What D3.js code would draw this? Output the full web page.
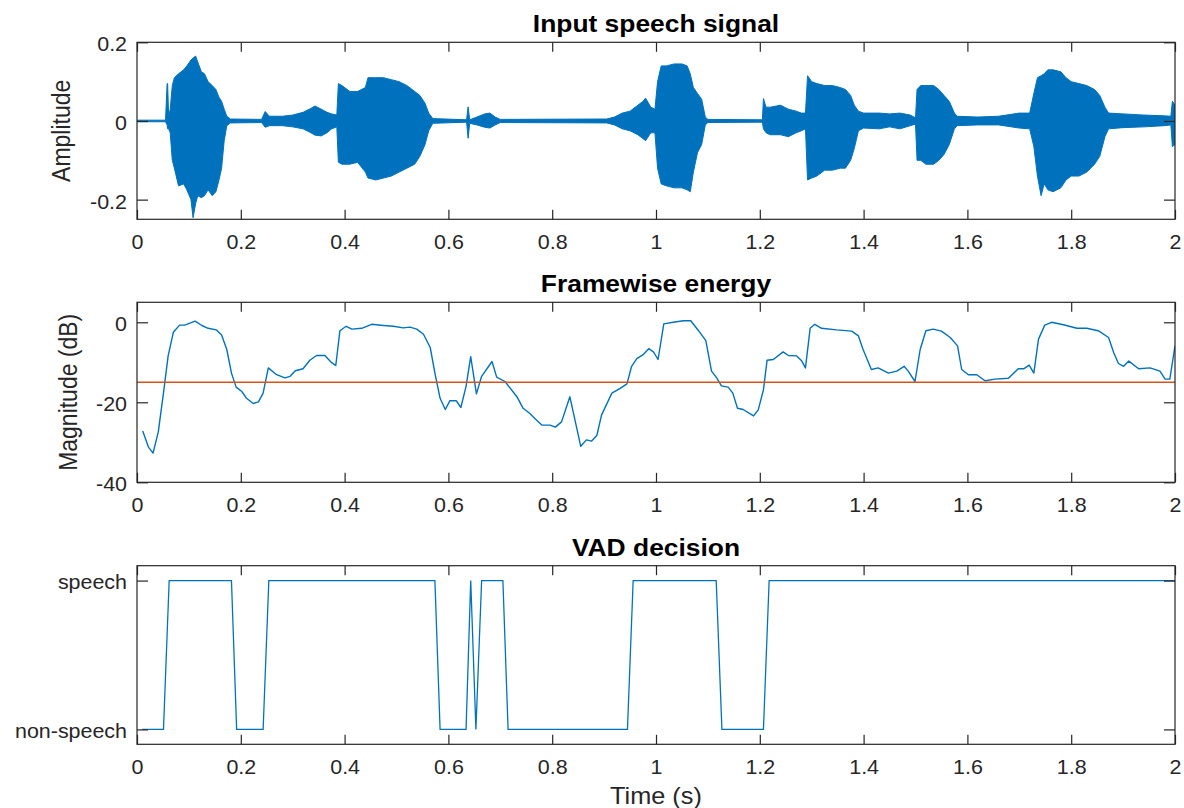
<!DOCTYPE html>
<html>
<head>
<meta charset="utf-8">
<script src="https://cdn.jsdelivr.net/npm/d3@7"></script>
<style>
  html, body { margin: 0; padding: 0; background: #fff; }
  svg { display: block; font-family: "Liberation Sans", Arial, Helvetica, sans-serif; }
</style>
</head>
<body>
<svg id="chart" width="1184" height="808"></svg>
<script>
// ---------------- DATA ----------------
const xTickValues = [0, 0.2, 0.4, 0.6, 0.8, 1, 1.2, 1.4, 1.6, 1.8, 2];
const xTickLabels = ["0", "0.2", "0.4", "0.6", "0.8", "1", "1.2", "1.4", "1.6", "1.8", "2"];

const ampTickValues = [-0.2, 0, 0.2];
const ampTickLabels = ["-0.2", "0", "0.2"];
const dbTickValues = [-40, -20, 0];
const dbTickLabels = ["-40", "-20", "0"];
const vadTickValues = [0, 1];
const vadTickLabels = ["non-speech", "speech"];

const titles = ["Input speech signal", "Framewise energy", "VAD decision"];
const yLabels = ["Amplitude", "Magnitude (dB)"];
const xLabel = "Time (s)";

// Input speech signal: envelope (upper / lower peaks)
const waveTime = [0, 0.055, 0.058, 0.059, 0.061, 0.064, 0.068, 0.072, 0.080, 0.090, 0.096, 0.104, 0.108, 0.113, 0.117, 0.124, 0.130, 0.137, 0.145, 0.152, 0.158, 0.163, 0.168, 0.173, 0.180,
  0.240, 0.247, 0.255, 0.280, 0.300, 0.320, 0.335, 0.343, 0.355, 0.366, 0.375, 0.385, 0.388, 0.395, 0.410, 0.425, 0.440, 0.445, 0.460, 0.475, 0.490, 0.505, 0.520, 0.535, 0.545, 0.555, 0.562, 0.570,
  0.635, 0.638, 0.641, 0.655, 0.670, 0.680, 0.690, 0.700,
  0.905, 0.920, 0.935, 0.950, 0.965, 0.975, 0.980, 0.990, 0.998, 1.003, 1.010, 1.020, 1.035, 1.050, 1.060, 1.066, 1.072, 1.080, 1.088, 1.095, 1.100,
  1.205, 1.207, 1.212, 1.220, 1.240, 1.255, 1.270, 1.280, 1.288, 1.292, 1.300, 1.310, 1.325, 1.340, 1.355, 1.365, 1.375, 1.382, 1.390, 1.400, 1.430, 1.450, 1.470, 1.490, 1.500,
  1.503, 1.510, 1.520, 1.535, 1.545, 1.555, 1.565, 1.575, 1.580, 1.620, 1.660, 1.700, 1.720, 1.728, 1.735, 1.742, 1.748, 1.755, 1.765, 1.780, 1.790, 1.800, 1.815, 1.830, 1.845, 1.855, 1.865, 1.872,
  1.900, 1.940, 1.980, 1.992, 1.995, 2.000];
const waveUpper = [0.002, 0.002, 0.095, 0.095, 0.010, 0.030, 0.090, 0.110, 0.120, 0.130, 0.140, 0.155, 0.160, 0.165, 0.150, 0.125, 0.120, 0.100, 0.090, 0.080, 0.060, 0.050, 0.030, 0.012, 0.005,
  0.004, 0.024, 0.012, 0.012, 0.015, 0.022, 0.032, 0.038, 0.030, 0.022, 0.018, 0.015, 0.095, 0.090, 0.075, 0.075, 0.085, 0.110, 0.110, 0.110, 0.105, 0.100, 0.090, 0.075, 0.065, 0.045, 0.020, 0.006,
  0.003, 0.036, 0.003, 0.010, 0.018, 0.020, 0.010, 0.004,
  0.005, 0.010, 0.020, 0.025, 0.040, 0.050, 0.058, 0.035, 0.030, 0.100, 0.140, 0.140, 0.145, 0.145, 0.140, 0.120, 0.085, 0.070, 0.055, 0.010, 0.004,
  0.003, 0.057, 0.035, 0.035, 0.040, 0.030, 0.025, 0.020, 0.020, 0.115, 0.100, 0.095, 0.090, 0.090, 0.085, 0.080, 0.065, 0.040, 0.025, 0.020, 0.020, 0.018, 0.020, 0.015, 0.008,
  0.080, 0.090, 0.090, 0.090, 0.080, 0.065, 0.050, 0.020, 0.012, 0.010, 0.012, 0.020, 0.020, 0.070, 0.110, 0.115, 0.120, 0.130, 0.130, 0.125, 0.110, 0.100, 0.095, 0.090, 0.080, 0.065, 0.035, 0.020,
  0.018, 0.015, 0.013, 0.012, 0.050, 0.040];
const waveLower = [-0.002, -0.002, -0.010, -0.020, -0.020, -0.030, -0.100, -0.120, -0.165, -0.160, -0.175, -0.200, -0.246, -0.210, -0.190, -0.195, -0.190, -0.175, -0.190, -0.180, -0.150, -0.120, -0.050, -0.012, -0.005,
  -0.004, -0.016, -0.012, -0.012, -0.015, -0.020, -0.030, -0.036, -0.038, -0.030, -0.020, -0.015, -0.105, -0.110, -0.110, -0.105, -0.130, -0.145, -0.150, -0.145, -0.140, -0.130, -0.120, -0.110, -0.090, -0.060, -0.025, -0.006,
  -0.003, -0.044, -0.006, -0.010, -0.016, -0.018, -0.010, -0.004,
  -0.005, -0.010, -0.020, -0.025, -0.035, -0.045, -0.050, -0.030, -0.030, -0.120, -0.160, -0.165, -0.170, -0.170, -0.175, -0.180, -0.130, -0.080, -0.060, -0.010, -0.004,
  -0.003, -0.020, -0.030, -0.035, -0.035, -0.040, -0.030, -0.025, -0.020, -0.150, -0.145, -0.140, -0.125, -0.125, -0.120, -0.120, -0.100, -0.070, -0.025, -0.018, -0.020, -0.015, -0.020, -0.012, -0.008,
  -0.100, -0.100, -0.110, -0.110, -0.100, -0.085, -0.060, -0.020, -0.012, -0.010, -0.010, -0.018, -0.020, -0.065, -0.140, -0.190, -0.160, -0.175, -0.180, -0.170, -0.150, -0.140, -0.140, -0.130, -0.110, -0.090, -0.040, -0.020,
  -0.017, -0.015, -0.012, -0.010, -0.065, -0.060];

// Framewise energy (dB)
const energyTime = [0.011, 0.022, 0.031, 0.041, 0.051, 0.060, 0.070, 0.082, 0.092, 0.112, 0.125, 0.137, 0.153, 0.163, 0.173, 0.182, 0.191, 0.202, 0.211, 0.224, 0.234, 0.243,
  0.253, 0.269, 0.285, 0.295, 0.305, 0.320, 0.333, 0.346, 0.362, 0.375, 0.383, 0.391, 0.403, 0.414, 0.433, 0.452, 0.475, 0.494, 0.513, 0.526, 0.539, 0.552, 0.565,
  0.574, 0.584, 0.594, 0.603, 0.615, 0.624, 0.634, 0.643, 0.654, 0.664, 0.684, 0.693, 0.709, 0.732, 0.744, 0.757, 0.767, 0.780, 0.796, 0.806, 0.818, 0.834,
  0.855, 0.866, 0.876, 0.886, 0.895, 0.915, 0.931, 0.944, 0.953, 0.963, 0.976, 0.986, 0.995, 1.004, 1.015, 1.033, 1.053, 1.067, 1.082, 1.096, 1.107, 1.117,
  1.126, 1.139, 1.148, 1.157, 1.168, 1.188, 1.197, 1.207, 1.214, 1.226, 1.245, 1.255, 1.271, 1.281, 1.288, 1.297, 1.306, 1.319, 1.348, 1.377, 1.390, 1.399,
  1.415, 1.428, 1.448, 1.464, 1.478, 1.486, 1.499, 1.509, 1.520, 1.534, 1.550, 1.567, 1.581, 1.589, 1.602, 1.618, 1.634, 1.653, 1.679, 1.698, 1.709, 1.719,
  1.728, 1.737, 1.749, 1.762, 1.785, 1.811, 1.830, 1.852, 1.872, 1.882, 1.891, 1.901, 1.911, 1.930, 1.952, 1.971, 1.981, 1.990, 1.997, 2.000];
const energyDb = [-27.2, -31.2, -32.7, -27.4, -17.7, -8.4, -2.5, -0.7, -0.7, 0.3, -0.8, -1.5, -1.9, -3.2, -6.8, -12.7, -16.2, -17.3, -19.0, -20.3, -19.9, -17.7,
  -11.4, -13.1, -13.9, -13.5, -12.1, -11.6, -9.5, -8.3, -8.3, -10.1, -10.8, -2.1, -1.0, -1.7, -1.5, -0.5, -0.8, -1.0, -1.4, -1.2, -1.7, -3.0, -6.3,
  -12.7, -19.0, -21.8, -19.6, -19.6, -21.3, -16.0, -8.6, -17.9, -13.5, -9.8, -13.7, -14.8, -18.6, -21.5, -22.8, -24.1, -25.7, -25.7, -26.2, -24.9, -18.6,
  -31.0, -29.4, -29.7, -28.3, -23.2, -17.7, -16.5, -15.4, -11.0, -9.1, -8.0, -6.6, -7.4, -9.3, -0.4, 0.0, 0.4, 0.4, -2.1, -4.6, -12.2, -13.9,
  -15.9, -16.2, -17.7, -21.5, -21.8, -23.4, -21.9, -16.9, -9.5, -9.3, -7.4, -8.3, -8.4, -9.7, -11.4, -1.5, -0.5, -1.5, -1.9, -2.2, -3.4, -6.8,
  -11.8, -11.4, -12.7, -12.2, -11.0, -12.2, -14.8, -6.8, -2.1, -1.7, -2.2, -3.8, -5.9, -11.8, -13.1, -13.1, -14.6, -14.2, -14.0, -11.6, -11.6, -10.7,
  -12.7, -4.2, -0.7, 0.0, -0.6, -1.5, -1.5, -2.1, -3.8, -7.6, -10.3, -11.0, -9.7, -11.6, -11.4, -12.2, -14.2, -14.2, -8.4, -5.9];
const thresholdDb = -15;

// VAD decision (0 = non-speech, 1 = speech), corner points
const vadTime = [0.010, 0.051, 0.062, 0.182, 0.192, 0.243, 0.254, 0.574, 0.584, 0.634, 0.643, 0.653, 0.664, 0.705, 0.715, 0.945, 0.956, 1.116, 1.127, 1.207, 1.218, 2.000];
const vadState = [0, 0, 1, 1, 0, 0, 1, 1, 0, 0, 1, 0, 1, 1, 0, 0, 1, 1, 0, 0, 1, 1];

// ---------------- DRAWING ----------------
const svg = d3.select("#chart");
const BLUE = "#0072BD", ORANGE = "#D95319", AX = "#262626";
const STRETCH = 1.1;
const left = 137, right = 1175;

const panels = [
  { top: 42.3, bottom: 219.3, domain: [-0.25, 0.2], ticks: ampTickValues, labels: ampTickLabels },
  { top: 302.3, bottom: 482.3, domain: [-40, 5], ticks: dbTickValues, labels: dbTickLabels },
  { top: 565.7, bottom: 744.3, domain: [-0.1, 1.1], ticks: vadTickValues, labels: vadTickLabels }
];

const x = d3.scaleLinear().domain([0, 2]).range([left, right]);

function stretchText(sel) {
  sel.each(function () {
    const t = d3.select(this);
    const x0 = +t.attr("x") || 0;
    t.attr("transform", `translate(${x0 * (1 - STRETCH)},0) scale(${STRETCH},1)`);
  });
}

const defs = svg.append("defs");

panels.forEach((p, i) => {
  p.y = d3.scaleLinear().domain(p.domain).range([p.bottom, p.top]);
  defs.append("clipPath").attr("id", "clip" + i)
    .append("rect").attr("x", left).attr("y", p.top).attr("width", right - left).attr("height", p.bottom - p.top);
  p.g = svg.append("g");
  p.plot = p.g.append("g").attr("clip-path", `url(#clip${i})`);
});

// Panel 1: waveform envelope
{
  const p = panels[0];
  const wave = waveTime.map((t, i) => ({ t, hi: waveUpper[i], lo: waveLower[i] }));
  p.plot.append("path").datum(wave)
    .attr("fill", BLUE).attr("stroke", BLUE).attr("stroke-width", 1)
    .attr("d", d3.area().x(d => x(d.t)).y0(d => p.y(d.lo)).y1(d => p.y(d.hi)));
}

// Panel 2: energy + threshold
{
  const p = panels[1];
  const en = energyTime.map((t, i) => ({ t, v: energyDb[i] }));
  p.plot.append("path").datum(en)
    .attr("fill", "none").attr("stroke", BLUE).attr("stroke-width", 1.4).attr("stroke-linejoin", "round")
    .attr("d", d3.line().x(d => x(d.t)).y(d => p.y(d.v)));
  p.plot.append("line")
    .attr("x1", x(0)).attr("x2", x(2)).attr("y1", p.y(thresholdDb)).attr("y2", p.y(thresholdDb))
    .attr("stroke", ORANGE).attr("stroke-width", 1.6);
}

// Panel 3: VAD decision
{
  const p = panels[2];
  const vad = vadTime.map((t, i) => ({ t, v: vadState[i] }));
  p.plot.append("path").datum(vad)
    .attr("fill", "none").attr("stroke", BLUE).attr("stroke-width", 1.3)
    .attr("d", d3.line().x(d => x(d.t)).y(d => p.y(d.v)));
}

// Axes, boxes
panels.forEach((p, i) => {
  const g = p.g;
  const xb = g.append("g").attr("transform", `translate(0,${p.bottom})`)
    .call(d3.axisBottom(x).tickValues(xTickValues).tickFormat((d, k) => xTickLabels[k])
      .tickSizeInner(-9.5).tickSizeOuter(0).tickPadding(16));
  const xt = g.append("g").attr("transform", `translate(0,${p.top})`)
    .call(d3.axisTop(x).tickValues(xTickValues).tickFormat("").tickSizeInner(-9.5).tickSizeOuter(0));
  const yl = g.append("g").attr("transform", `translate(${left},0)`)
    .call(d3.axisLeft(p.y).tickValues(p.ticks).tickFormat((d, k) => p.labels[k])
      .tickSizeInner(-11).tickSizeOuter(0).tickPadding(10));
  const yr = g.append("g").attr("transform", `translate(${right},0)`)
    .call(d3.axisRight(p.y).tickValues(p.ticks).tickFormat("").tickSizeInner(-11).tickSizeOuter(0));
  [xb, xt, yl, yr].forEach(a => {
    a.select(".domain").remove();
    a.selectAll("line").attr("stroke", AX).attr("stroke-width", 1.2);
    a.selectAll("text").attr("fill", AX).style("font-size", "19.5px")
      .style("font-family", '"Liberation Sans", Arial, sans-serif');
  });
  yl.selectAll("text").attr("dy", "0.43em");
  stretchText(xb.selectAll("text"));
  stretchText(yl.selectAll("text"));

  g.append("rect").attr("x", left).attr("y", p.top).attr("width", right - left).attr("height", p.bottom - p.top)
    .attr("fill", "none").attr("stroke", AX).attr("stroke-width", 1.2);

  const title = g.append("text").attr("x", (left + right) / 2).attr("y", p.top - 10)
    .attr("text-anchor", "middle").attr("fill", "#000")
    .style("font-size", "24px").style("font-weight", "bold").text(titles[i]);
  stretchText(title);
});

// y labels
[[70, (panels[0].top + panels[0].bottom) / 2, yLabels[0]], [77, (panels[1].top + panels[1].bottom) / 2, yLabels[1]]].forEach(([lx, ly, txt]) => {
  svg.append("text").attr("transform", `translate(${lx},${ly}) scale(${STRETCH},1) rotate(-90)`)
    .attr("text-anchor", "middle").attr("fill", AX).style("font-size", "23px").text(txt);
});

// x label
const xl = svg.append("text").attr("x", (left + right) / 2).attr("y", 804)
  .attr("text-anchor", "middle").attr("fill", AX).style("font-size", "23px").text(xLabel);
stretchText(xl);
</script>
</body>
</html>
